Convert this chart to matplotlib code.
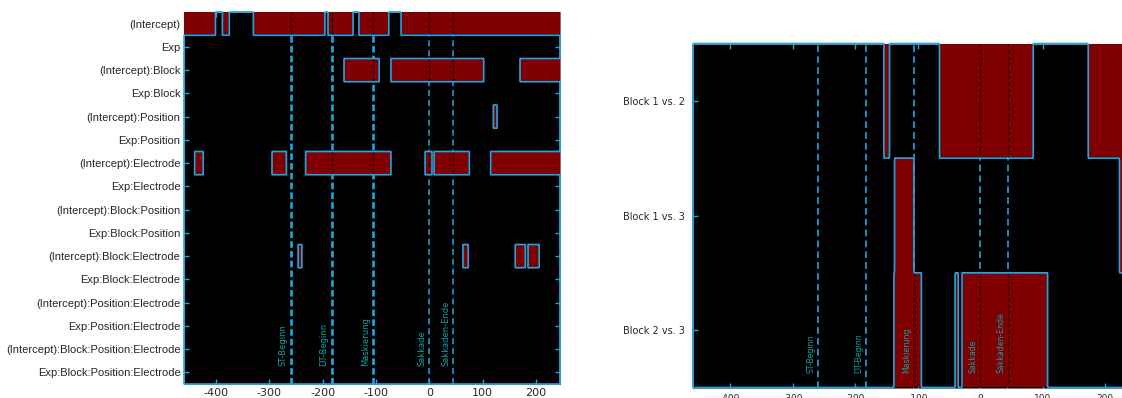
import numpy as np
import matplotlib
matplotlib.use("Agg")
import matplotlib.pyplot as plt
from matplotlib.colors import ListedColormap

plt.rcParams['axes.unicode_minus'] = False

# time window (ms)
T_START, T_END = -460, 245

# ANOVA effects and their significant time windows (ms)
effect_labels = [
    "(Intercept)", "Exp", "(Intercept):Block", "Exp:Block",
    "(Intercept):Position", "Exp:Position", "(Intercept):Electrode",
    "Exp:Electrode", "(Intercept):Block:Position", "Exp:Block:Position",
    "(Intercept):Block:Electrode", "Exp:Block:Electrode",
    "(Intercept):Position:Electrode", "Exp:Position:Electrode",
    "(Intercept):Block:Position:Electrode", "Exp:Block:Position:Electrode",
]
sig_intercept = [(-460, -401), (-388, -375), (-330, -196), (-190, -143), (-132, -76), (-53, 245)]
sig_exp = []
sig_intercept_block = [(-160, -94), (-72, 102), (170, 245)]
sig_exp_block = []
sig_intercept_position = [(120, 127)]
sig_exp_position = []
sig_intercept_electrode = [(-440, -424), (-295, -268), (-232, -72), (-8, 5), (9, 75), (115, 245)]
sig_exp_electrode = []
sig_intercept_block_position = []
sig_exp_block_position = []
sig_intercept_block_electrode = [(-246, -239), (63, 73), (161, 180), (185, 206)]
sig_exp_block_electrode = []
sig_intercept_position_electrode = []
sig_exp_position_electrode = []
sig_intercept_block_position_electrode = []
sig_exp_block_position_electrode = []
effect_sig = [
    sig_intercept, sig_exp, sig_intercept_block, sig_exp_block,
    sig_intercept_position, sig_exp_position, sig_intercept_electrode,
    sig_exp_electrode, sig_intercept_block_position, sig_exp_block_position,
    sig_intercept_block_electrode, sig_exp_block_electrode,
    sig_intercept_position_electrode, sig_exp_position_electrode,
    sig_intercept_block_position_electrode, sig_exp_block_position_electrode,
]

# post-hoc block comparisons
block_labels = ["Block 1 vs. 2", "Block 1 vs. 3", "Block 2 vs. 3"]
sig_block_1_2 = [(-154, -145), (-65, 85), (173, 245)]
sig_block_1_3 = [(-137, -106), (223, 245)]
sig_block_2_3 = [(-138, -94), (-40, -35), (-29, 108)]
block_sig = [sig_block_1_2, sig_block_1_3, sig_block_2_3]

# trial events (ms)
event_times = [-260, -183, -106, 0, 45]
event_names = ["ST-Beginn", "DT-Beginn", "Maskierung", "Sakkade", "Sakkaden-Ende"]

x_ticks = [-400, -300, -200, -100, 0, 100, 200]

RED = "#7f0000"
CYAN = "#1ea6e2"
TEAL = "#0fa0a8"
DARK = "#2a0000"
TXT = "#262626"

t_centers = np.arange(T_START, T_END) + 0.5


def build_mask(rows):
    m = np.zeros((len(rows), len(t_centers)))
    for i, ivs in enumerate(rows):
        for a, b in ivs:
            m[i, (t_centers >= a) & (t_centers < b)] = 1
    return m


def draw_panel(ax, rows, labels, event_style, text_fs, text_offset):
    n = len(rows)
    mask = build_mask(rows)
    ax.set_facecolor("black")

    # event markers under the significance layer
    for tv, (lw, dash) in zip(event_times, event_style):
        ax.axvline(tv, color=CYAN, lw=lw, ls=(0, dash), zorder=1)

    ax.imshow(np.ma.masked_equal(mask, 0), cmap=ListedColormap([RED]),
              extent=(T_START, T_END, n, 0), aspect="auto",
              interpolation="nearest", zorder=2)

    # darker event markers where they cross significant windows
    for tv in event_times:
        col = np.searchsorted(t_centers, tv)
        col = min(col, len(t_centers) - 1)
        for i in range(n):
            if mask[i, col] > 0:
                ax.vlines(tv, i, i + 1, colors=DARK, lw=0.9,
                          linestyles=(0, (3, 2)), zorder=3)

    # outlines of the significant windows (domain padded as significant)
    ys = np.ravel([[i + 0.02, i + 0.98] for i in range(n)])
    ys = np.concatenate([[-0.02], ys, [n + 0.02]])
    xs = np.concatenate([[T_START - 0.3], t_centers, [T_END + 0.3]])
    Z = np.ones((len(ys), len(xs)))
    Z[1:-1, 1:-1] = np.repeat(mask, 2, axis=0)
    cs = ax.contour(xs, ys, Z, levels=[0.5], colors=CYAN, linewidths=1.2, zorder=4)
    cs.set_clip_on(False)

    for tv, name in zip(event_times, event_names):
        ax.annotate(name, xy=(tv, 0), xycoords=("data", "axes fraction"),
                    xytext=text_offset, textcoords="offset points",
                    rotation=90, ha="center", va="bottom",
                    fontsize=text_fs, color=TEAL, zorder=5)

    ax.set_xlim(T_START, T_END)
    ax.set_ylim(n, 0)
    ax.set_xticks(x_ticks)
    ax.set_yticks(np.arange(n) + 0.5)
    ax.set_yticklabels(labels)
    for s in ax.spines.values():
        s.set_color("#7a7a7a")
        s.set_linewidth(0.8)
        s.set_zorder(0.5)


fig = plt.figure(figsize=(11.22, 3.98), dpi=100, facecolor="white")

# left: all effects
ax1 = fig.add_axes([184 / 1122, 14 / 398, 376 / 1122, 372 / 398])
left_style = [(1.9, (2.5, 1.2)), (1.9, (2.5, 1.2)), (1.9, (2.5, 1.2)),
              (1.1, (4, 2.5)), (1.1, (4, 2.5))]
draw_panel(ax1, effect_sig, effect_labels, left_style, 6, (-5.5, 13))
ax1.tick_params(axis="both", direction="in", length=3.5, width=1,
                color=CYAN, labelcolor=TXT, top=True, right=True)
ax1.tick_params(axis="x", which="both", top=True, labelsize=8, pad=3)
ax1.tick_params(axis="y", pad=2.5)
for tick in ax1.xaxis.get_major_ticks():
    tick.tick2line.set_color(DARK)
for lab in ax1.get_yticklabels():
    lab.set_fontfamily("Liberation Sans")
    lab.set_fontsize(8)

# right: block comparisons
ax2 = fig.add_axes([692.7 / 1122, 10.5 / 398, 440.5 / 1122, 344 / 398])
right_style = [(1.2, (4, 2.5))] * 5
draw_panel(ax2, block_sig, block_labels, right_style, 5.6, (-5, 10.4))
ax2.tick_params(axis="both", direction="in", length=3.5, width=1,
                color=CYAN, labelcolor=TXT, top=True, right=True)
ax2.tick_params(axis="x", labelsize=6.5, pad=5)
ax2.tick_params(axis="y", labelsize=7, pad=5.5)

fig.savefig("out.png", dpi=100, facecolor="white")
